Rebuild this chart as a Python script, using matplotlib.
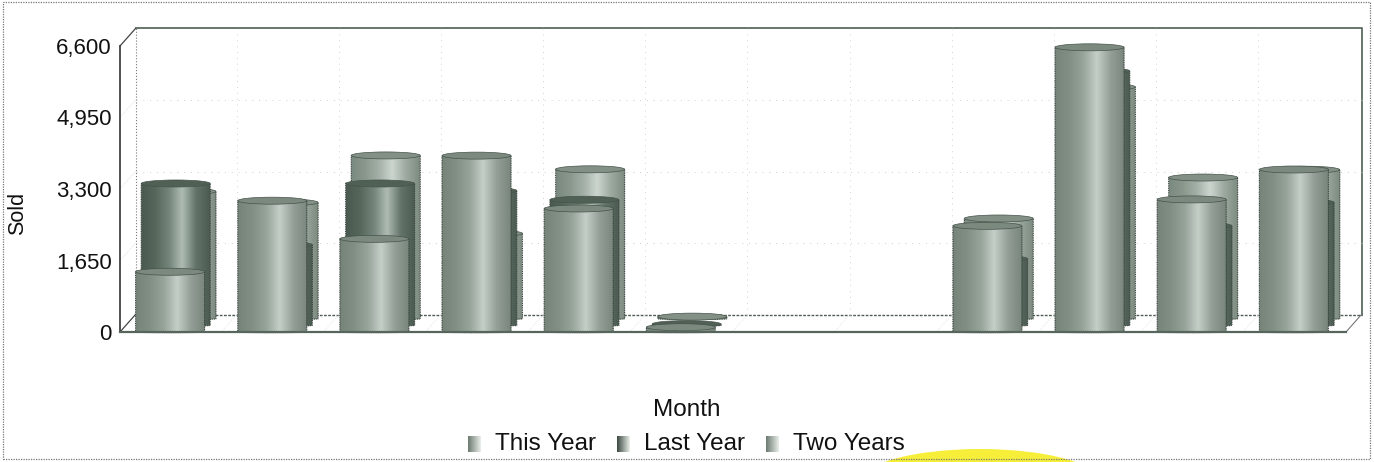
import numpy as np
import matplotlib
matplotlib.use('Agg')
import matplotlib.pyplot as plt
from matplotlib.colors import LinearSegmentedColormap, to_rgb
from matplotlib.patches import Ellipse, PathPatch, Rectangle
from matplotlib.path import Path

plt.rcParams['font.family'] = ['Liberation Sans', 'DejaVu Sans']

# Values
months = np.arange(12)
this_year = [1390, 3030, 2150, 4070, 2850, 110, 0, 0, 2450, 6570, 3060, 3750]
last_year = [3275, 1860, 3275, 3110, 2900, 30, 0, 0, 1540, 5870, 2300, 2840]
two_years = [2940, 2685, 3770, 1970, 3450, 50, 0, 0, 2315, 5350, 3260, 3440]
series_names = ['This Year', 'Last Year', 'Two Years']
y_ticks = [0, 1650, 3300, 4950, 6600]
y_tick_labels = ['0', '1,650', '3,300', '4,950', '6,600']

W, H = 1374, 462
fig = plt.figure(figsize=(W / 100, H / 100), dpi=100, facecolor='white')
ax = fig.add_axes([120 / W, (H - 332) / H, 1226 / W, 286 / H])
ax.set_facecolor('none')

xmin, xmax = -0.49, 11.51
ymin, ymax = 0, 6600
px_x = 1226 / (xmax - xmin)
px_y = 286 / (ymax - ymin)

bar_w = 69 / px_x
ell_h = 7 / px_y
step_x = 5.7 / px_x
step_y = 6.6 / px_y
wall_x = 15.5 / px_x
wall_y = 17.5 / px_y

cm_light = LinearSegmentedColormap.from_list('light', ['#76847a', '#828f85', '#97a49a', '#c4cfc7', '#939f96', '#79867c'])
cm_dark = LinearSegmentedColormap.from_list('dark', ['#4a5a50', '#56665b', '#74847a', '#aebbb2', '#63736a', '#4b5b51'])
cm_back = LinearSegmentedColormap.from_list('back', ['#7b8a80', '#8a978d', '#a3b0a7', '#ccd6cf', '#9daaa0', '#7d8b81'])
grad = np.linspace(0, 1, 128).reshape(1, -1)


def cylinder(xc, base, top, cmap, z):
    # body shape, flat at the top where the cap sits, nearly flat at the bottom
    t = np.linspace(np.pi, 0, 40)
    xs = xc + bar_w / 2 * np.cos(t)
    top_y = np.full_like(xs, top)
    low_y = base - ell_h / 2 * np.sin(t) * 0.2
    pts = np.r_[np.c_[xs, top_y], np.c_[xs[::-1], low_y[::-1]], [[xs[0], top]]]
    body = PathPatch(Path(pts), facecolor='none', edgecolor='#38443d', lw=0.8, ls=(0, (1, 0.6)),
                     zorder=z + 0.2, clip_on=False)
    ax.add_patch(body)
    im = ax.imshow(grad, cmap=cmap, aspect='auto', zorder=z + 0.1, clip_on=True,
                   extent=[xc - bar_w / 2, xc + bar_w / 2, base - ell_h, top + ell_h])
    im.set_clip_path(body)
    cap = Ellipse((xc, top), bar_w, ell_h, facecolor=cmap(0.1), edgecolor='#46534b', lw=0.5,
                  zorder=z + 0.3, clip_on=False)
    ax.add_patch(cap)


# back wall, floor and grid
wx0, wx1 = xmin + wall_x, xmax + wall_x
wy0, wy1 = ymin + wall_y, ymax + wall_y
ax.plot([wx0, wx1, wx1], [wy1, wy1, wy0], color='#5a6a60', lw=1.3, clip_on=False, zorder=1)
ax.plot([wx0, wx0], [wy0, wy1], color='#777777', lw=0.8, ls=':', clip_on=False, zorder=1)
ax.plot([wx0, wx1], [wy0, wy0], color='#4f5f55', lw=1.0, ls=(0, (2, 1)), clip_on=False, zorder=1)
ax.plot([xmin, wx0], [ymax, wy1], color='#444444', lw=0.9, clip_on=False, zorder=1)
ax.plot([xmin, wx0], [ymin, wy0], color='#444444', lw=0.9, clip_on=False, zorder=1)
ax.plot([xmax, wx1], [ymin, wy0], color='#777777', lw=0.8, clip_on=False, zorder=1)
for v in y_ticks[1:-1]:
    ax.plot([wx0, wx1], [v + wall_y, v + wall_y], color='#cfcfcf', lw=0.7, ls=(0, (1, 6)), clip_on=False, zorder=1)
    ax.plot([xmin, wx0], [v, v + wall_y], color='#d5d5d5', lw=0.6, ls=':', clip_on=False, zorder=1)
for m in months[1:]:
    xb = m - 0.5 + wall_x
    ax.plot([xb, xb], [wy0, wy1], color='#d2d2d2', lw=0.7, ls=(0, (1, 5)), clip_on=False, zorder=1)
    ax.plot([m - 0.5, xb], [ymin, wy0], color='#dddddd', lw=0.6, ls=':', clip_on=False, zorder=1)

# cylinders, back row first
rows = [(two_years, cm_back, 2), (last_year, cm_dark, 1), (this_year, cm_light, 0)]
z = 2
for values, cmap, depth in rows:
    for m, v in zip(months, values):
        if v > 0:
            cylinder(m + depth * step_x, depth * step_y, depth * step_y + v, cmap, z)
    z += 1

ax.set_xlim(xmin, xmax)
ax.set_ylim(ymin, ymax)
ax.set_xticks([])
ax.set_yticks(y_ticks)
ax.set_yticklabels(y_tick_labels, fontsize=16, color='#111111')
ax.tick_params(axis='y', length=0, pad=6)
for s in ['top', 'right']:
    ax.spines[s].set_visible(False)
ax.spines['left'].set_color('#333333')
ax.spines['left'].set_linewidth(1.2)
ax.spines['bottom'].set_color('#56665c')
ax.spines['bottom'].set_linewidth(1.6)
ax.spines['bottom'].set_zorder(6)

# axis titles
fig.text(18 / W, 1 - 213 / H, 'Sold', rotation=90, ha='center', va='center', fontsize=15.5, color='#111111')
fig.text(687 / W, 1 - 410 / H, 'Month', ha='center', va='center', fontsize=17.5, color='#111111')

# legend, gradient swatches with labels
swatch_x = [468, 617, 766]
label_x = [495, 644, 793]
swatch_left = ['#6f7d73', '#3f4e45', '#6f7d73']
for sx, lx, name, col in zip(swatch_x, label_x, series_names, swatch_left):
    c0 = np.array(to_rgb(col))
    for i in range(13):
        c = c0 + (np.array([0.9, 0.92, 0.9]) - c0) * i / 12
        fig.add_artist(Rectangle(((sx + i) / W, 1 - 452 / H), 1 / W, 16 / H, transform=fig.transFigure,
                                 facecolor=c, edgecolor='none'))
    fig.text(lx / W, 1 - 444 / H, name, ha='left', va='center', fontsize=17.5, color='#111111')

# dotted page frame and the yellow shape cut off at the bottom edge
fig.add_artist(Rectangle((3 / W, 1 - 459 / H), 1367 / W, 457 / H, transform=fig.transFigure,
                         facecolor='none', edgecolor='#777777', lw=0.9, ls=(0, (1, 1))))
fig.add_artist(Ellipse((980 / W, 1 - 482 / H), 240 / W, 66 / H, transform=fig.transFigure,
                       facecolor='#f7ee3a', edgecolor='none', zorder=-1))

fig.savefig('out.png', dpi=100)
